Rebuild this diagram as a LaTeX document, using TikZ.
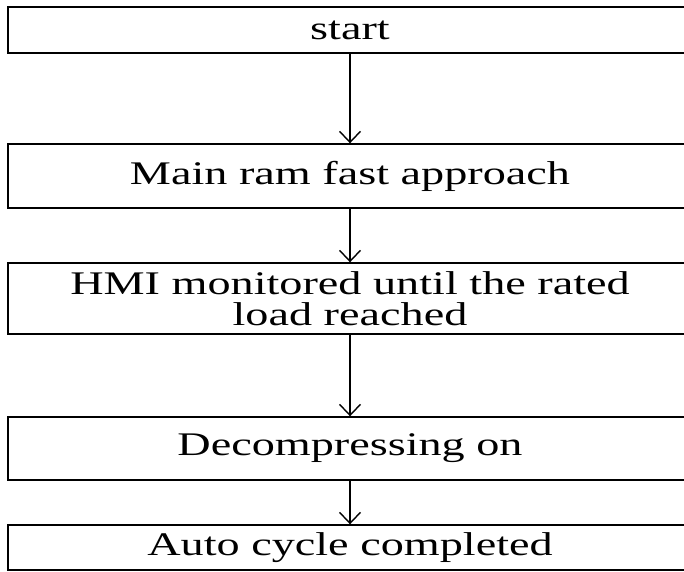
\documentclass[tikz,border=0pt]{standalone}
\usepackage{fontspec}
\setmainfont{Liberation Serif}[FakeStretch=1.4]
\usepackage{tikz}
\usetikzlibrary{arrows.meta, positioning}

\begin{document}
\begin{tikzpicture}[
  x=1pt, y=-1pt,
  >={Straight Barb[length=11pt, width=21pt]},
  line width=1.4pt,
  stepbox/.style={draw, rectangle, inner sep=0pt, minimum width=684pt, align=center},
  every node/.style={font=\fontsize{33}{31}\selectfont}
]
\useasboundingbox (0,0) rectangle (684,571);
% ---- boxes, top to bottom ----
\node[stepbox, minimum height=46pt] (start) at (350,30) {start};
\node[stepbox, minimum height=64pt] (ram) at (350,176) {Main ram fast approach};
\node[stepbox, minimum height=71pt] (hmi) at (350,298.5) {HMI monitored until the rated\\load reached};
\node[stepbox, minimum height=63pt] (decomp) at (350,448.5) {Decompressing on};
\node[stepbox, minimum height=45pt] (done) at (350,547.5) {Auto cycle completed};

% ---- arrows ----
\draw[->] (start) -- (ram);
\draw[->] (ram) -- (hmi);
\draw[->] (hmi) -- (decomp);
\draw[->] (decomp) -- (done);
\end{tikzpicture}
\end{document}
